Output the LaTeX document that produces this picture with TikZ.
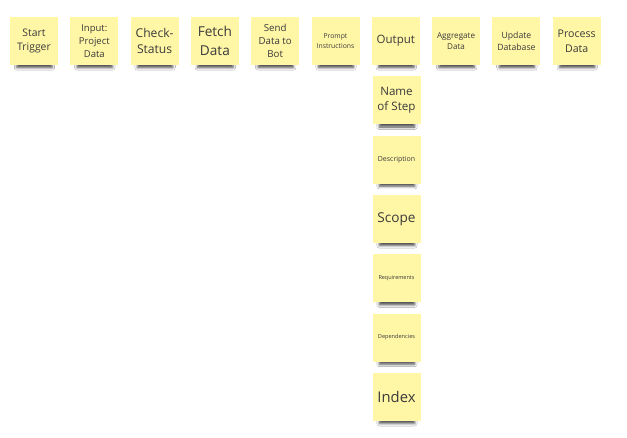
\documentclass[tikz,border=0pt]{standalone}
\usepackage{fontspec}
\setmainfont{Open Sans}
\usetikzlibrary{shadows.blur,backgrounds}
\definecolor{noteyellow}{RGB}{255,246,166}
\definecolor{notetext}{RGB}{58,58,58}

\begin{document}
\begin{tikzpicture}[x=1pt,y=-1pt,
  note/.style={fill=noteyellow,minimum width=48pt,minimum height=48pt,inner sep=1pt,
    align=center,text=notetext},
  noteshadow/.style={blur shadow={shadow xshift=0pt,shadow yshift=-2.5pt,shadow opacity=70,shadow blur radius=2.5pt}}]
\begin{scope}[on background layer]
\fill[white] (0,0) rectangle (627,437);
\end{scope}
\useasboundingbox (0,0) rectangle (627,437);
% top row of sticky notes
\foreach \i/\n/\t/\s/\b in {0/start/{Start\\Trigger}/10.4/14.5,
  1/input/{Input:\\Project\\Data}/9.5/13,
  2/check/{Check-\\Status}/12.1/16,
  3/fetch/{Fetch\\Data}/13.6/18.5,
  4/send/{Send\\Data to\\Bot}/9.7/13,
  5/prompt/{Prompt\\Instructions}/6.8/9.3,
  6/output/{Output}/11.5/15,
  7/aggregate/{Aggregate\\Data}/8.1/11.2,
  8/update/{Update\\Database}/8.7/11.7,
  9/process/{Process\\Data}/10.6/15}
{
\node[note,font=\fontsize{\s}{\b}\selectfont] (\n) at ({34+60.3*\i},41) {\t};
\begin{scope}[on background layer]
\path[noteshadow] ([xshift=7pt,yshift=5pt]\n.south west) rectangle ([xshift=-6pt]\n.south east);
\end{scope}
}
% column under Output
\foreach \k/\n/\t/\s/\b in {1/name/{Name\\of Step}/11.6/15.7,
  2/description/{Description}/7/9,
  3/scope/{Scope}/13.6/17,
  4/requirements/{Requirements}/5.5/7,
  5/dependencies/{Dependencies}/5.6/7,
  6/index/{Index}/14.8/18}
{
\node[note,font=\fontsize{\s}{\b}\selectfont] (\n) at (396.5,{41+59.3*\k}) {\t};
\begin{scope}[on background layer]
\path[noteshadow] ([xshift=7pt,yshift=5pt]\n.south west) rectangle ([xshift=-6pt]\n.south east);
\end{scope}
}
\end{tikzpicture}
\end{document}
